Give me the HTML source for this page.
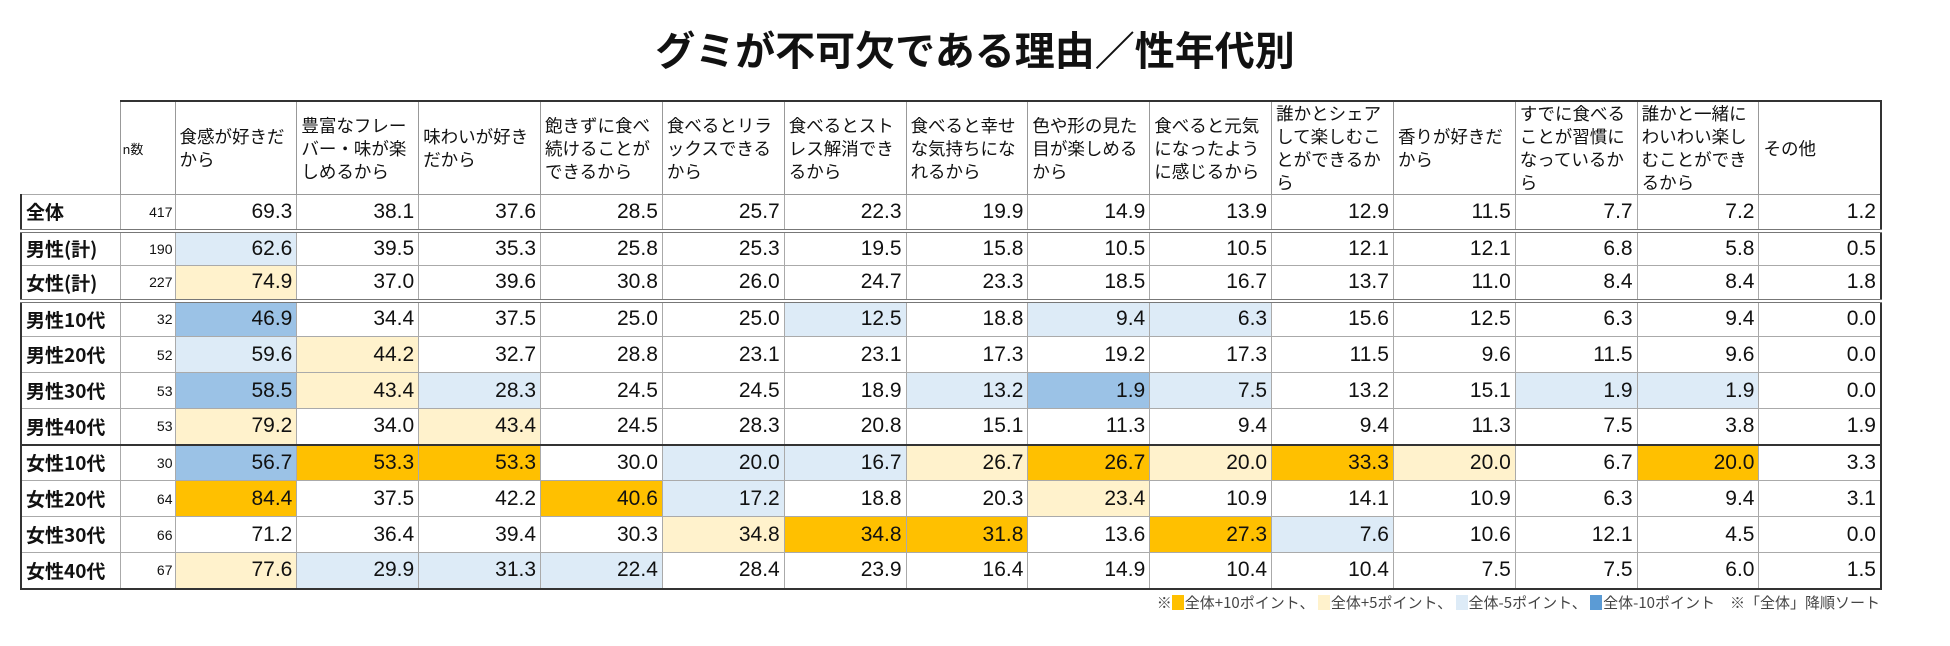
<!DOCTYPE html>
<html><head><meta charset="utf-8">
<style>
body{margin:0;width:1950px;height:646px;background:#fff;overflow:hidden;font-family:"Liberation Sans","Noto Sans CJK JP",sans-serif;}
#title{position:absolute;left:0;width:1950px;top:20px;text-align:center;font-size:40px;line-height:56px;font-weight:bold;color:#111;font-family:"Noto Sans CJK JP",sans-serif;letter-spacing:0px;}
table{position:absolute;left:20px;top:100px;border-collapse:collapse;table-layout:fixed;width:1862px;}
td,th{padding:0 4px;box-sizing:border-box;overflow:hidden;}
th{font-weight:normal;text-align:left;vertical-align:middle;font-size:17.5px;line-height:23px;font-family:"Noto Sans CJK JP",sans-serif;border:1px solid #999;border-top:2px solid #333;height:93px;color:#111;word-break:break-all;padding:0 2px 0 4px;}
th.blank{border:none;}
th.n{font-size:13px;padding-left:2px;}
td{border:1px solid #aaa;text-align:right;font-family:"Liberation Sans Narrow","Liberation Sans",sans-serif;font-size:21px;color:#111;}
td.lab{text-align:left;font-family:"Noto Sans CJK JP",sans-serif;font-weight:bold;font-size:19px;border-left:2px solid #333;}
td.nn{font-size:14px;padding-right:2px;}
td:last-child,th:last-child{border-right:2px solid #333;}
tr.dbl td{border-bottom:4px double #777;}
tr.thick td{border-bottom:2px solid #333;}
tr.last td{border-bottom:2px solid #333;}
.o{background:#FFC000}.y{background:#FFF2CC}.l{background:#DDEBF7}.b{background:#9BC2E6}
#note{position:absolute;right:70px;top:592px;font-size:15px;color:#444;font-family:"Noto Sans CJK JP",sans-serif;}
.sq{display:inline-block;width:12px;height:15px;vertical-align:-2px;margin-right:1px;}
</style></head><body>
<div id="title">グミが不可欠である理由／性年代別</div>
<table id="tbl">
<colgroup><col style="width:99px"><col style="width:55px"></colgroup>
<thead><tr id="hdr"></tr></thead>
<tbody id="body"></tbody>
</table>
<div id="note">※<span class="sq" style="background:#FFC000"></span>全体+10ポイント、 <span class="sq" style="background:#FFF2CC"></span>全体+5ポイント、 <span class="sq" style="background:#DDEBF7"></span>全体-5ポイント、 <span class="sq" style="background:#5B9BD5"></span>全体-10ポイント　※「全体」降順ソート</div>
<script>
const categories=["食感が好きだから","豊富なフレーバー・味が楽しめるから","味わいが好きだから","飽きずに食べ続けることができるから","食べるとリラックスできるから","食べるとストレス解消できるから","食べると幸せな気持ちになれるから","色や形の見た目が楽しめるから","食べると元気になったように感じるから","誰かとシェアして楽しむことができるから","香りが好きだから","すでに食べることが習慣になっているから","誰かと一緒にわいわい楽しむことができるから","その他"];
const rowLabels=["全体","男性(計)","女性(計)","男性10代","男性20代","男性30代","男性40代","女性10代","女性20代","女性30代","女性40代"];
const nCounts=[417,190,227,32,52,53,53,30,64,66,67];
const vTotal=[69.3,38.1,37.6,28.5,25.7,22.3,19.9,14.9,13.9,12.9,11.5,7.7,7.2,1.2];
const vMale=[62.6,39.5,35.3,25.8,25.3,19.5,15.8,10.5,10.5,12.1,12.1,6.8,5.8,0.5];
const vFemale=[74.9,37.0,39.6,30.8,26.0,24.7,23.3,18.5,16.7,13.7,11.0,8.4,8.4,1.8];
const vM10=[46.9,34.4,37.5,25.0,25.0,12.5,18.8,9.4,6.3,15.6,12.5,6.3,9.4,0.0];
const vM20=[59.6,44.2,32.7,28.8,23.1,23.1,17.3,19.2,17.3,11.5,9.6,11.5,9.6,0.0];
const vM30=[58.5,43.4,28.3,24.5,24.5,18.9,13.2,1.9,7.5,13.2,15.1,1.9,1.9,0.0];
const vM40=[79.2,34.0,43.4,24.5,28.3,20.8,15.1,11.3,9.4,9.4,11.3,7.5,3.8,1.9];
const vF10=[56.7,53.3,53.3,30.0,20.0,16.7,26.7,26.7,20.0,33.3,20.0,6.7,20.0,3.3];
const vF20=[84.4,37.5,42.2,40.6,17.2,18.8,20.3,23.4,10.9,14.1,10.9,6.3,9.4,3.1];
const vF30=[71.2,36.4,39.4,30.3,34.8,34.8,31.8,13.6,27.3,7.6,10.6,12.1,4.5,0.0];
const vF40=[77.6,29.9,31.3,22.4,28.4,23.9,16.4,14.9,10.4,10.4,7.5,7.5,6.0,1.5];
const series=[vTotal,vMale,vFemale,vM10,vM20,vM30,vM40,vF10,vF20,vF30,vF40];
const rowHeights=[36,35,35,36,36,36,36,36,36,36,36];
const rowClass=["dbl","","dbl","","","","thick","","","","last"];

const hdr=document.getElementById('hdr');
let th=document.createElement('th');th.className='blank';


hdr.appendChild(th);
th=document.createElement('th');th.className='n';th.textContent='n数';


hdr.appendChild(th);
categories.forEach((c,i)=>{const h=document.createElement('th');h.textContent=c;


hdr.appendChild(h);});

function cls(v,base){const d=v-base;if(d>=10)return'o';if(d>=5)return'y';if(d<=-10)return'b';if(d<=-5)return'l';return'';}
const body=document.getElementById('body');
series.forEach((vals,r)=>{
 const tr=document.createElement('tr');tr.className=rowClass[r];tr.style.height=rowHeights[r]+'px';
 
 
 let td=document.createElement('td');td.className='lab';td.textContent=rowLabels[r];
 
 
 tr.appendChild(td);
 td=document.createElement('td');td.className='nn';td.textContent=nCounts[r];
 
 
 tr.appendChild(td);
 vals.forEach((v,i)=>{const c=document.createElement('td');c.textContent=v.toFixed(1);
  if(r>0){const k=cls(v,vTotal[i]);if(k)c.classList.add(k);}
  
  
  tr.appendChild(c);});
 body.appendChild(tr);
});
</script>
</body></html>
